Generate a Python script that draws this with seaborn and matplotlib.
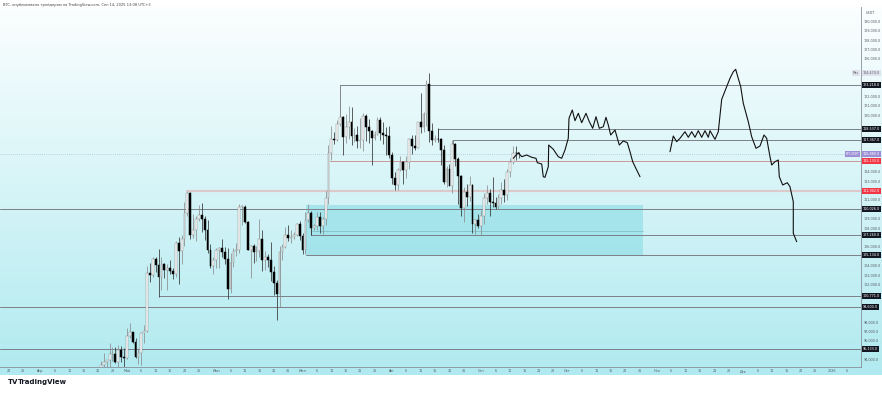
import numpy as np
import pandas as pd
import matplotlib
matplotlib.use("Agg")
import matplotlib.pyplot as plt
import matplotlib.transforms as mtransforms
from matplotlib.patches import Rectangle
import seaborn as sns

sns.set_theme(style="white")
plt.rcParams['font.family'] = ['DejaVu Sans']

# ---------------- data ----------------
start_date = "2025-04-20"
base_date = "2025-08-14"

opens = [85180, 85050, 87520, 93440, 93700, 93980, 94640, 94650, 93750, 94980, 94260,
         94170, 96490, 96900, 95880, 94310, 94750, 96820, 97030, 103240, 102970, 104700, 104120, 102800, 104140, 103500, 103750, 103480, 103120, 106450, 105600, 106800, 109650, 111690, 107300, 107800, 109000, 109440, 108950, 107800, 105640, 103980,
         104600, 105700, 105880, 105430, 104700, 101500, 104300, 105600, 105700, 110260, 110270, 108650, 105670, 106050, 105410, 105590, 106800, 104550, 104880, 104650, 103300, 102120, 100960, 105400, 106000, 107300, 106950, 107050, 107300, 108380,
         107140, 105700, 108850, 109600, 107980, 108220, 109200, 108260, 108920, 111230, 115990, 117520, 117420, 119090, 119840, 117680, 118760, 119290, 117760, 117920, 117270, 117380, 119950, 118750, 118340, 117630, 117950, 119450, 118060, 117950, 117840,
         115760, 113300, 112550, 114200, 115050, 114130, 115020, 117500, 116690, 116500, 119300, 118700, 120150, 123320, 118300, 117350, 117490, 117460, 116250, 112900, 114270, 112500, 116940, 115370, 113490, 110110, 111790, 111260, 112560, 108380, 108820,
         108250, 109250, 111240, 111700, 110720, 110650, 110190, 111150, 112060, 111480, 113950, 115060, 116000, 115950]
highs = [85320, 88460, 93850, 94700, 94000, 95750, 95300, 95300, 95600, 95450, 95200,
         97400, 97900, 96900, 96300, 95200, 96900, 97700, 103950, 104300, 104950, 104950, 105800, 104950, 104300, 104150, 104550, 103700, 106650, 107100, 107300, 110800, 111980, 111800, 109500, 109300, 110400, 110700, 109300, 108900, 106300, 104900,
         105900, 105950, 106800, 105950, 105900, 105300, 105900, 106450, 110600, 110400, 110400, 108800, 106200, 106250, 106100, 108950, 107750, 105550, 105250, 106500, 104000, 102500, 106100, 106300, 108100, 108300, 107800, 107550, 108500, 108800,
         107500, 109750, 110550, 109800, 108450, 109700, 109750, 109200, 111990, 116870, 118870, 118200, 119490, 123218, 119950, 120100, 120990, 120850, 118600, 118850, 119680, 120250, 120100, 119550, 118450, 118300, 119800, 119800, 119250, 118800, 118900,
         116050, 114000, 114400, 115700, 115150, 115700, 117600, 117900, 117900, 119300, 122350, 120300, 123700, 124474, 119200, 117950, 118600, 117600, 116800, 114600, 114800, 117400, 117000, 115600, 113650, 112400, 112650, 113500, 112650, 108950, 109500,
         109900, 111770, 112600, 112200, 113380, 111300, 111600, 112900, 113250, 114300, 115500, 116700, 116700, 116100]
lows = [83950, 85000, 87000, 91900, 91700, 92900, 93900, 93600, 92850, 93800, 92900,
        94100, 96300, 95750, 94150, 93500, 93400, 95800, 96900, 102300, 102800, 103350, 100700, 101450, 102650, 101400, 103100, 102600, 102800, 102000, 104200, 106100, 109300, 106800, 106900, 106600, 108700, 107550, 106700, 105350, 103700, 103100,
        103750, 103700, 104900, 104150, 100400, 101100, 103900, 105000, 105350, 108300, 108500, 105650, 102650, 104300, 104500, 104900, 103400, 103500, 103900, 102350, 100850, 98200, 99600, 104650, 105900, 106650, 106400, 106850, 107200, 106750,
        105250, 105200, 108600, 107250, 107800, 107800, 107500, 107400, 108350, 110600, 115250, 116900, 117250, 118900, 115740, 117100, 117450, 116800, 117200, 116500, 116500, 116150, 117300, 117100, 114700, 117350, 117850, 117400, 116950, 115800, 115500,
        112700, 112000, 112100, 114100, 112650, 113350, 114250, 115900, 116300, 116500, 118100, 118200, 118900, 117200, 116800, 117150, 117250, 114700, 112700, 112400, 112600, 111700, 114600, 110600, 109300, 108650, 110350, 110850, 107450, 107350, 108050,
        107270, 108400, 110600, 109300, 110200, 110000, 110000, 110600, 110750, 110950, 113400, 114800, 115200, 115400]
closes = [85050, 87520, 93440, 93700, 93980, 94640, 94650, 93750, 94980, 94260, 94170,
          96490, 96900, 95880, 94310, 94750, 96820, 97030, 103240, 102970, 104700, 104120, 102800, 104140, 103500, 103750, 103480, 103120, 106450, 105600, 106800, 109650, 111690, 107300, 107800, 109000, 109440, 108950, 107800, 105640, 103980, 104600,
          105700, 105880, 105430, 104700, 101500, 104300, 105600, 105700, 110260, 110270, 108650, 105670, 106050, 105410, 105590, 106800, 104550, 104880, 104650, 103300, 102120, 100960, 105400, 106000, 107300, 106950, 107050, 107300, 108380, 107140,
          105700, 108850, 109600, 107980, 108220, 109200, 108260, 108920, 111230, 115990, 117520, 117420, 119090, 119840, 117680, 118760, 119290, 117760, 117920, 117270, 117380, 119950, 118750, 118340, 117630, 117950, 119450, 118060, 117950, 117840, 115760,
          113300, 112550, 114200, 115050, 114130, 115020, 117500, 116690, 116500, 119300, 118700, 120150, 123320, 118300, 117350, 117490, 117460, 116250, 112900, 114270, 112500, 116940, 115370, 113490, 110110, 111790, 111260, 112560, 108380, 108820, 108250,
          109250, 111240, 111700, 110720, 110650, 110190, 111150, 112060, 111480, 113950, 115060, 116000, 115950, 115880]

# projected (hand drawn) paths: day offset from base_date, price
path1_days = [29.17, 30.90, 32.08, 33.82, 35.56, 37.05, 37.50, 39.03, 39.58, 40.17, 41.32, 41.46, 43.06, 44.79, 45.97, 47.12, 48.26, 48.51, 49.65, 50.59, 51.74, 52.92, 54.41, 55.56, 56.74, 57.88, 59.03, 60.42, 61.35, 62.15, 62.99, 64.48, 65.97, 67.36, 68.75, 69.69, 70.63, 72.01, 73.16]
path1_prices = [115420, 116016, 115590, 115771, 115527, 115420, 114952, 114814, 113463, 113399, 114527, 116835, 116378, 115590, 115420, 116303, 117548, 119675, 120558, 119420, 120207, 119207, 120207, 119314, 118612, 119846, 118612, 118782, 119782, 118963, 117899, 118431, 116835, 117261, 117080, 116122, 115058, 114175, 113463]
path2_days = [83.58, 84.72, 85.90, 87.05, 88.78, 89.93, 91.11, 92.26, 93.40, 94.58, 95.73, 96.88, 97.47, 99.20, 100.35, 101.53, 103.26, 104.41, 105.56, 106.39, 106.94, 108.13, 109.03, 110.76, 111.94, 113.44, 114.83, 116.22, 117.15, 118.30, 118.89, 120.03, 121.18, 121.53, 122.71, 124.31, 125.24, 126.39, 126.39, 127.57]
path2_prices = [116122, 117793, 117186, 117548, 118250, 117654, 118250, 117654, 118356, 117654, 118356, 117654, 118356, 117441, 118250, 121697, 123037, 123931, 124633, 124888, 124282, 123037, 121271, 119314, 117718, 116484, 116729, 117899, 117548, 115590, 114707, 115058, 115239, 113463, 112580, 112824, 112399, 110803, 107441, 106548]

# horizontal levels: (price, start day offset, style)
level_prices = [123218, 118537, 117367, 115133, 111942, 110026, 107260, 105134, 100771, 99600, 95133]
level_starts = [-31, 3, 8.2, -34.5, -84, -160, -41, -42.8, -94, -160, -160]
level_kinds = ['k', 'k', 'k', 'r', 'R', 'k', 'k', 'k', 'k', 'k', 'k']

zone_days = [-42.8, 74.2]
zone_prices = [105134, 110452]

current_price = 115880
max_price = 124474

month_names = ["Янв", "Фев", "Мар", "Апр", "Май", "Июн", "Июл", "Авг", "Сен", "Окт", "Ноя", "Дек"]

# ---------------- figure ----------------
W, H = 882, 393
fig = plt.figure(figsize=(W / 100, H / 100), dpi=100)
fig.patch.set_facecolor("white")

# background gradient panel
bg = fig.add_axes([0, 1 - 375 / H, 1, 368 / H])
bg.set_axis_off()
top_c = np.array([0.985, 0.997, 0.998])
bot_c = np.array([176, 234, 240]) / 255
t = np.linspace(0, 1, 256)[:, None]
grad = top_c[None, :] * (1 - t) + bot_c[None, :] * t
bg.imshow(grad[:, None, :], aspect="auto", extent=[0, 1, 0, 1], origin="upper")
bg.set_xlim(0, 1); bg.set_ylim(0, 1)

ax = fig.add_axes([0, 1 - 367 / H, 861 / W, 360 / H])
ax.set_facecolor("none")

XL, XR = -149.06, 149.9
YB, YT = 93218, 131516
ax.set_xlim(XL, XR)
ax.set_ylim(YB, YT)

dates = pd.date_range(start_date, periods=len(closes), freq="D")
base = pd.Timestamp(base_date)
xd = np.array((dates - base).days, dtype=float)
o = np.array(opens, float); h = np.array(highs, float)
l = np.array(lows, float); c = np.array(closes, float)
up = c >= o

# zone rectangle
ax.add_patch(Rectangle((zone_days[0], zone_prices[0]), zone_days[1] - zone_days[0],
                       zone_prices[1] - zone_prices[0], facecolor="#8fdde6", alpha=0.65,
                       edgecolor="none", zorder=1))
ax.plot([-41, zone_days[1]], [107720, 107720], color="#7fb9c0", lw=0.5, zorder=1.5)

# levels
for p, s, k in zip(level_prices, level_starts, level_kinds):
    if k == 'k':
        ax.plot([max(s, XL), XR], [p, p], color="#7b7f88", lw=0.7, zorder=2)
    elif k == 'r':
        ax.plot([s, XR], [p, p], color="#c99a9a", lw=0.7, zorder=2)
    else:
        ax.plot([s, XR], [p, p], color="#dccaca", lw=1.6, zorder=2)
# connector verticals
ax.plot([-31, -31], [123218, 119700], color="#7b7f88", lw=0.7, zorder=2)
ax.plot([3, 3], [118537, 117200], color="#7b7f88", lw=0.7, zorder=2)
ax.plot([8.2, 8.2], [117367, 116900], color="#7b7f88", lw=0.7, zorder=2)
ax.plot([-41, -41], [108645, 107260], color="#7b7f88", lw=0.7, zorder=2)

# current price dotted line
ax.axhline(current_price, color="#9c8fd0", lw=0.5, ls=(0, (1, 2)), zorder=2, alpha=0.8)

# candles
wick_col = np.where(up, "#8c8c8c", "#333333")
ax.vlines(xd, l, h, colors=wick_col, lw=0.55, zorder=3)
body_bottom = np.minimum(o, c)
body_h = np.maximum(np.abs(c - o), 60)
ax.bar(xd, body_h, bottom=body_bottom, width=0.62,
       color=np.where(up, "white", "black"),
       edgecolor=np.where(up, "#8c8c8c", "black"), linewidth=0.35, zorder=4)

# projected paths
sns.lineplot(x=path1_days, y=path1_prices, sort=False, estimator=None, color="#111111",
             lw=0.8, ax=ax, zorder=5)
sns.lineplot(x=path2_days, y=path2_prices, sort=False, estimator=None, color="#111111",
             lw=0.8, ax=ax, zorder=5)

# spines
for s in ["top", "left"]:
    ax.spines[s].set_visible(False)
for s in ["right", "bottom"]:
    ax.spines[s].set_visible(True)
    ax.spines[s].set_color("#8a8f99")
    ax.spines[s].set_linewidth(0.6)
ax.grid(False)

# y-axis on right
special = level_prices + [current_price, max_price]
yt = [v for v in range(94000, 131000, 1000) if min(abs(v - s) for s in special) > 600]
ax.yaxis.tick_right()
ax.set_yticks(yt)
ax.set_yticklabels([f"{v:,.1f}" for v in yt], fontsize=2.4, color="#555a63")
ax.tick_params(axis="y", length=0, pad=2)

# x-axis ticks
tick_pos, tick_lab = [], []
for m in pd.date_range("2025-03-01", "2026-01-01", freq="MS"):
    for d in [1, 6, 11, 16, 21, 26]:
        dt = m + pd.Timedelta(days=d - 1)
        xv = (dt - base).days
        if XL + 1 < xv < XR - 1:
            tick_pos.append(xv)
            if d == 1:
                tick_lab.append("2026" if m.month == 1 else month_names[m.month - 1])
            else:
                tick_lab.append(str(d))
ax.set_xticks(tick_pos)
ax.set_xticklabels(tick_lab, fontsize=2.4, color="#555a63")
ax.tick_params(axis="x", length=0, pad=1.5)

# axis price labels
trans = mtransforms.blended_transform_factory(ax.transAxes, ax.transData)
def plabel(p, fc, tc="white"):
    ax.text(1.002, p, f"{p:,.1f}", transform=trans, fontsize=2.4, color=tc, ha="left",
            va="center", clip_on=False, zorder=10,
            bbox=dict(boxstyle="square,pad=0.3", fc=fc, ec="none"))
for p, k in zip(level_prices, level_kinds):
    plabel(p, "#131722" if k == 'k' else "#f23645")
plabel(current_price, "#9c8fd6")
plabel(max_price, "#e0e3eb", "#555a63")
ax.text(0.998, current_price, "BTCUSDT", transform=trans, fontsize=2.2, color="white",
        ha="right", va="center", zorder=10,
        bbox=dict(boxstyle="square,pad=0.3", fc="#9c8fd6", ec="none"))
ax.text(0.998, max_price, "Max", transform=trans, fontsize=2.2, color="#555a63",
        ha="right", va="center", zorder=10,
        bbox=dict(boxstyle="square,pad=0.3", fc="#e0e3eb", ec="none"))
ax.text(1.006, YT - 600, "USDT", transform=trans, fontsize=2.4, color="#555a63",
        ha="left", va="center", clip_on=False)

# header and logo
fig.text(3 / W, 1 - 5 / H, "BTC, опубликовано трейдером на TradingView.com, Сен 14, 2025 13:08 UTC+3",
         fontsize=2.6, color="#444", ha="left", va="center")
fig.text(8 / W, 1 - 382 / H, "TV", fontsize=5, fontweight="bold", color="#131722",
         ha="left", va="center")
fig.text(18 / W, 1 - 382 / H, "TradingView", fontsize=5, fontweight="bold", color="#131722",
         ha="left", va="center")

fig.savefig("out.png", dpi=100, facecolor="white")
